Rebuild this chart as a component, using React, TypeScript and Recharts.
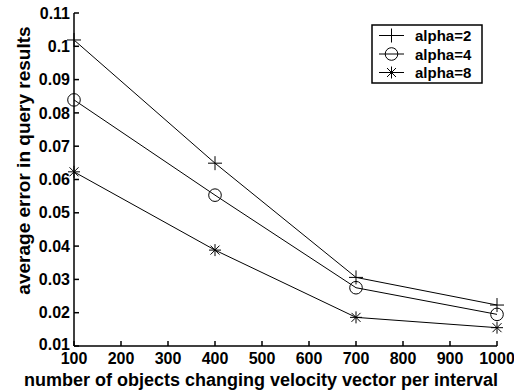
import { LineChart, Line, XAxis, YAxis, Legend } from 'recharts';

// values
const intervals = [100, 400, 700, 1000];
const alpha2 = [0.1019, 0.0649, 0.0306, 0.0223];
const alpha4 = [0.0839, 0.0553, 0.0275, 0.0195];
const alpha8 = [0.0623, 0.0388, 0.0186, 0.0155];
const seriesNames = ['alpha=2', 'alpha=4', 'alpha=8'];
const markerKinds = ['plus', 'circle', 'star'];
const xTicks = [100, 200, 300, 400, 500, 600, 700, 800, 900, 1000];
const yTicks = [0.01, 0.02, 0.03, 0.04, 0.05, 0.06, 0.07, 0.08, 0.09, 0.1, 0.11];

const data = intervals.map((x, i) => ({ x, a2: alpha2[i], a4: alpha4[i], a8: alpha8[i] }));
const keys = ['a2', 'a4', 'a8'];

const FONT = '"Liberation Sans", Arial, Helvetica, sans-serif';
const tickStyle = { fill: '#000', fontSize: 16, fontWeight: 'bold', fontFamily: FONT };

const Marker = ({ kind, cx, cy }: any) => {
  if (kind === 'plus') {
    return <path d={`M${cx - 7},${cy}H${cx + 7}M${cx},${cy - 7}V${cy + 7}`} stroke="#000" strokeWidth={1} fill="none" />;
  }
  if (kind === 'circle') {
    return <circle cx={cx} cy={cy} r={6.3} stroke="#000" strokeWidth={1} fill="none" />;
  }
  const d = 4.5;
  return (
    <path
      d={`M${cx - 6},${cy}H${cx + 6}M${cx},${cy - 6}V${cy + 6}M${cx - d},${cy - d}L${cx + d},${cy + d}M${cx - d},${cy + d}L${cx + d},${cy - d}`}
      stroke="#000"
      strokeWidth={1}
      fill="none"
    />
  );
};

const LegendBox = () => (
  <svg width={112} height={60} style={{ display: 'block' }}>
    <rect x={1} y={1} width={110} height={58} fill="#fff" stroke="#000" strokeWidth={1.5} />
    {seriesNames.map((name, i) => {
      const y = 11.5 + i * 18.5;
      return (
        <g key={name}>
          <line x1={8} x2={33} y1={y} y2={y} stroke="#000" strokeWidth={1} />
          <Marker kind={markerKinds[i]} cx={20.5} cy={y} />
          <text x={44} y={y + 5.5} fontSize={15} fontWeight="bold" fontFamily={FONT} fill="#000">
            {name}
          </text>
        </g>
      );
    })}
  </svg>
);

const fmt = (v: number) => String(+v.toFixed(2));

// y tick label; the bottom one sits a little higher, as in the figure
const YTick = ({ x, y, payload, index }: any) => (
  <text x={x} y={y + (index === 0 ? -2 : 0)} dy="0.355em" textAnchor="end" {...tickStyle}>
    {fmt(payload.value)}
  </text>
);

export default function App() {
  return (
    <div>
      <style>{'body{margin:0;background:#fff}'}</style>
      <LineChart width={514} height={391} data={data} margin={{ top: 13, right: 17, bottom: 0, left: 0 }}>
        <XAxis
          xAxisId="b"
          dataKey="x"
          type="number"
          domain={[100, 1000]}
          ticks={xTicks}
          height={45}
          stroke="#000"
          strokeWidth={1.5}
          tickSize={-5}
          tickMargin={12}
          tick={tickStyle}
          interval={0}
          label={{
            value: 'number of objects changing velocity vector per interval',
            position: 'center',
            dx: -24.5,
            dy: 11,
            style: { ...tickStyle, fontSize: 18 },
          }}
        />
        <XAxis
          xAxisId="t"
          orientation="top"
          dataKey="x"
          type="number"
          domain={[100, 1000]}
          ticks={xTicks}
          height={0}
          stroke="#000"
          strokeWidth={1.5}
          tickSize={-5}
          tick={false}
        />
        <YAxis
          yAxisId="l"
          type="number"
          domain={[0.01, 0.11]}
          ticks={yTicks}
          width={74}
          stroke="#000"
          strokeWidth={1.5}
          tickSize={-5}
          tickMargin={9}
          tick={<YTick />}
          interval={0}
          label={{
            value: 'average error in query results',
            angle: -90,
            position: 'center',
            dx: -14,
            dy: -19,
            style: { ...tickStyle, fontSize: 19, textAnchor: 'middle' },
          }}
        />
        <YAxis
          yAxisId="r"
          orientation="right"
          type="number"
          domain={[0.01, 0.11]}
          ticks={yTicks}
          width={0}
          stroke="#000"
          strokeWidth={1.5}
          tickSize={-5}
          tick={false}
        />
        <Legend
          layout="horizontal"
          verticalAlign="middle"
          content={() => <LegendBox />}
          wrapperStyle={{ position: 'absolute', left: 371, top: 24, width: 112, height: 60 }}
        />
        {keys.map((k, i) => (
          <Line
            key={k}
            xAxisId="b"
            yAxisId="l"
            type="linear"
            dataKey={k}
            name={seriesNames[i]}
            stroke="#000"
            strokeWidth={1}
            isAnimationActive={false}
            dot={(p: any) => <Marker key={`${k}-${p.index}`} kind={markerKinds[i]} cx={p.cx} cy={p.cy} />}
            activeDot={false}
          />
        ))}
      </LineChart>
    </div>
  );
}
